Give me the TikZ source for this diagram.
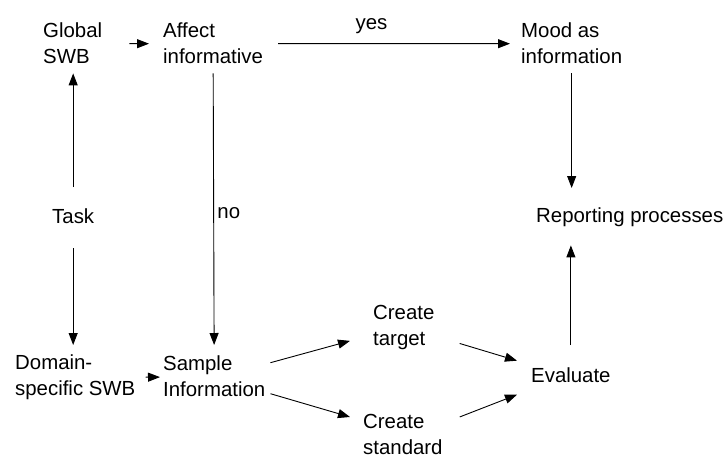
\documentclass[tikz,border=0pt]{standalone}
\usepackage{fontspec}
\setmainfont{Liberation Sans}
\usetikzlibrary{arrows.meta}

\begin{document}
\begin{tikzpicture}[
    x=1pt, y=-1pt,
    lbl/.style={anchor=north west, inner sep=0pt, align=left, font=\fontsize{20.4}{26}\selectfont},
    edgelbl/.style={font=\fontsize{20.4}{26}\selectfont},
    arr/.style={-{Triangle[length=12pt,width=9pt]}, line width=0.9pt}
  ]
    \useasboundingbox (0,0) rectangle (726,459);

    \node[lbl] (gsw) at (43,23) {Global\\SWB};
    \node[lbl] (aff) at (163,23) {Affect\\informative};
    \node[lbl] (mood) at (521,23) {Mood as\\information};
    \node[lbl] (task) at (52,209) {Task};
    \node[lbl] (rep) at (536,208) {Reporting processes};
    \node[lbl] (dom) at (15,355) {Domain-\\specific SWB};
    \node[lbl] (smp) at (163,356) {Sample\\Information};
    \node[lbl] (tgt) at (373,305) {Create\\target};
    \node[lbl] (std) at (363,414) {Create\\standard};
    \node[lbl] (eval) at (531,368) {Evaluate};

    \draw[arr, shorten <=27pt, shorten >=14pt] (gsw) -- (aff);
    \draw[arr, shorten <=15pt, shorten >=11pt] (aff) -- node[edgelbl, above=6pt, pos=0.42]{yes} (mood);
    \draw[arr, shorten <=9pt, shorten >=11pt] (aff) -- node[edgelbl, right, pos=0.51]{no} (smp);
    \draw[arr, shorten <=22pt, shorten >=9pt] (task.north) -- (task.north |- gsw.south);
    \draw[arr, shorten <=24pt, shorten >=10pt] (task.south) -- (task.south |- dom.north);
    \draw[arr, shorten <=10pt, shorten >=3pt] (dom) -- (smp);
    \draw[arr] ([shift={(5pt,14pt)}]smp.east) -- ([shift={(-23pt,9pt)}]tgt.south west);
    \draw[arr] ([shift={(5pt,-17pt)}]smp.east) -- ([shift={(-13pt,-3pt)}]std.north west);
    \draw[arr] ([shift={(25pt,-16pt)}]tgt.east) -- ([shift={(-14pt,15pt)}]eval.west);
    \draw[arr] ([shift={(17pt,17.5pt)}]std.east) -- ([shift={(-14pt,-19pt)}]eval.west);
    \draw[arr, shorten <=9pt, shorten >=20pt] (mood.south) -- (mood.south |- rep.north);
    \draw[arr, shorten <=23pt, shorten >=18pt] (eval.north) -- (eval.north |- rep.south);
  \end{tikzpicture}
\end{document}
